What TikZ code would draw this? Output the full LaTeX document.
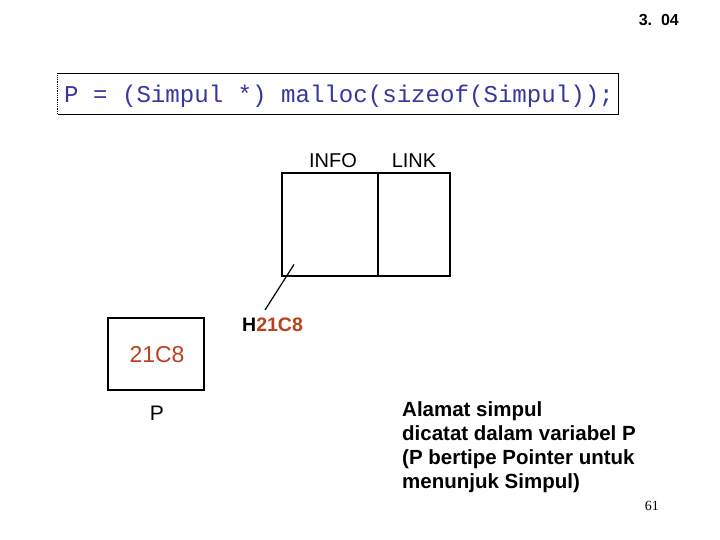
\documentclass[tikz,border=0pt]{standalone}
\usepackage{fontspec}
\setmainfont{Liberation Sans}
\newfontfamily\codefont{Liberation Mono}
\newfontfamily\serifnum{Liberation Serif}
\definecolor{codeblue}{RGB}{55,55,160}
\definecolor{addr}{RGB}{185,65,30}
\begin{document}
\begin{tikzpicture}[x=1pt,y=-1pt,
  cell/.style={draw=black,line width=2pt},
  lbl/.style={inner sep=0pt,anchor=base},
]
\useasboundingbox[fill=white] (0,0) rectangle (720,540);
% slide number
\node[lbl,anchor=base east] (sect) at (679,26) {\fontsize{16}{16}\selectfont\bfseries 3.\ \ 04};
% code box
\draw[line width=0.8pt] (57.5,73.5) -- (618,73.5) -- (618,114.5) -- (57.5,114.5);
\draw[line width=0.8pt,densely dotted] (57.5,73.5) -- (57.5,114.5);
\node[lbl,anchor=base west,text=codeblue] (code) at (64,103) {\codefont\fontsize{24.1}{24}\selectfont P = (Simpul *) malloc(sizeof(Simpul));};
% node cells
\node[cell,minimum width=96pt,minimum height=102pt,inner sep=0pt] (info) at (330,224.5) {};
\node[cell,minimum width=72pt,minimum height=102pt,inner sep=0pt] (link) at (414,224.5) {};
\node[lbl] (infol) at (333,168) {\fontsize{20}{20}\selectfont INFO};
\node[lbl] (linkl) at (414,168) {\fontsize{20}{20}\selectfont LINK};
% address label
\coordinate (tip) at (294,264.5);
\node[lbl,anchor=base west] (haddr) at (242,331.5) {\fontsize{19.5}{19.5}\selectfont\bfseries H\textcolor{addr}{21C8}};
\draw[line width=1.2pt] (tip) -- (265,310);
% pointer variable box
\node[cell,minimum width=96pt,minimum height=72pt,inner sep=0pt] (pbox) at (156,354) {};
\node[lbl,text=addr] (pval) at (157,362) {\fontsize{23}{23}\selectfont 21C8};
\node[lbl] (pname) at (157,420) {\fontsize{21}{21}\selectfont P};
% explanation
\node[anchor=north west,inner sep=0pt,align=left,font=\fontsize{20.5}{24}\selectfont\bfseries] (expl) at (402,401) {Alamat simpul\\dicatat dalam variabel P\\(P bertipe Pointer untuk\\menunjuk Simpul)};
\node[lbl,anchor=base east] (page) at (659,510) {\serifnum\fontsize{14}{14}\selectfont 61};
\end{tikzpicture}
\end{document}
